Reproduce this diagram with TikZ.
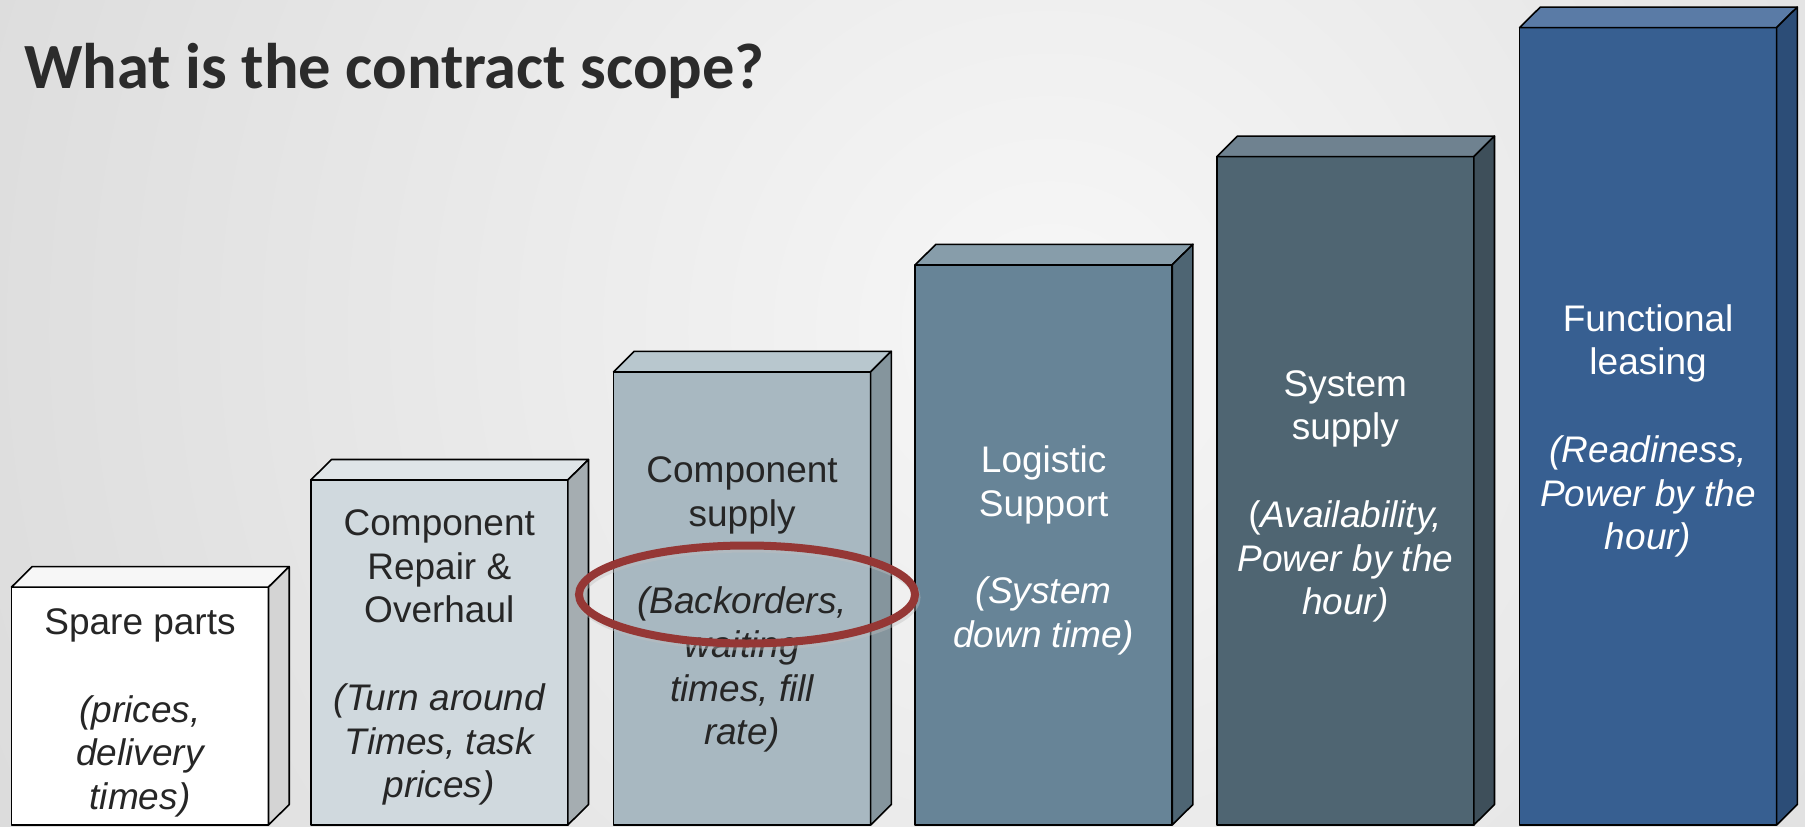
\documentclass[tikz,border=0pt]{standalone}
\usepackage{fontspec}
\setmainfont{Liberation Sans}
\newfontfamily\titlefont{Carlito}
\definecolor{bgouter}{HTML}{DCDCDC}
\definecolor{bginner}{HTML}{F7F7F7}
\definecolor{txtdark}{HTML}{262626}
\definecolor{ttl}{HTML}{2B2B2B}
\definecolor{ellred}{HTML}{953735}
\definecolor{fA}{HTML}{FFFFFF}\definecolor{tA}{HTML}{F7F7F7}\definecolor{sA}{HTML}{D4D4D4}
\definecolor{fB}{HTML}{D0D9DE}\definecolor{tB}{HTML}{DFE5E8}\definecolor{sB}{HTML}{A5ADB1}
\definecolor{fC}{HTML}{A8B8C1}\definecolor{tC}{HTML}{B8C7CE}\definecolor{sC}{HTML}{85959D}
\definecolor{fD}{HTML}{678497}\definecolor{tD}{HTML}{879DAA}\definecolor{sD}{HTML}{4E6573}
\definecolor{fE}{HTML}{4F6572}\definecolor{tE}{HTML}{6F8290}\definecolor{sE}{HTML}{3E4F5A}
\definecolor{fF}{HTML}{375F91}\definecolor{tF}{HTML}{5A7BA6}\definecolor{sF}{HTML}{2C4D77}
\tikzset{
  boxline/.style={draw=black,line width=1.6pt,line join=round},
  boxtext/.style={align=center,inner sep=0pt,font=\fontsize{37}{43.75}\selectfont},
}
\newcommand\scopebox[4]{%
  \fill[#3,boxline] (#1,#2) rectangle (#1+257,825);
  \fill[t#4,boxline] (#1,#2) -- (#1+20.7,#2-20.5) -- (#1+277.7,#2-20.5) -- (#1+257,#2) -- cycle;
  \fill[s#4,boxline] (#1+257,#2) -- (#1+277.7,#2-20.5) -- (#1+277.7,804.5) -- (#1+257,825) -- cycle;
}
\begin{document}
\begin{tikzpicture}[x=1pt,y=-1pt]
\useasboundingbox (0,0) rectangle (1805,827);
\begin{scope}
\clip (0,0) rectangle (1805,827);
\fill[bgouter] (0,0) rectangle (1805,827);
\shade[inner color=bginner,outer color=bgouter] (1050,330) circle (1150);
\end{scope}
\node[anchor=base west,inner sep=0pt,text=ttl,font=\titlefont\bfseries\fontsize{64.5}{72}\selectfont] (title) at (24,88) {What is the contract scope?};

\scopebox{11.5}{587.1}{fA}{A}
\scopebox{310.8}{480}{fB}{B}
\scopebox{613.6}{371.8}{fC}{C}
\scopebox{915.2}{264.8}{fD}{D}
\scopebox{1216.8}{156.6}{fE}{E}
\scopebox{1519.6}{27.6}{fF}{F}

\node[boxtext,text=txtdark] (tA) at (140,713) {Spare parts\\~\\\itshape (prices,\\\itshape delivery\\\itshape times)};
\node[boxtext,text=txtdark] (tB) at (439.3,657.5) {Component\\Repair \&\\Overhaul\\~\\\itshape (Turn around\\\itshape Times, task\\\itshape prices)};
\node[boxtext,text=txtdark] (tC) at (742.1,604.5) {Component\\supply\\~\\\itshape (Backorders,\\\itshape waiting\\\itshape times, fill\\\itshape rate)};
\node[boxtext,text=white] (tD) at (1043.7,550.4) {Logistic\\Support\\~\\\itshape (System\\\itshape down time)};
\node[boxtext,text=white] (tE) at (1345.3,496.3) {System\\supply\\~\\(\textit{Availability,}\\\itshape Power by the\\\itshape hour)};
\node[boxtext,text=white] (tF) at (1648.1,431) {Functional\\leasing\\~\\\itshape (Readiness,\\\itshape Power by the\\\itshape hour)};

\draw[black!25,line width=8pt,opacity=0.4] (748.5,597.5) ellipse [x radius=168pt, y radius=49pt];
\draw[ellred,line width=8pt] (747,594.5) ellipse [x radius=168pt, y radius=49pt];
\end{tikzpicture}
\end{document}
